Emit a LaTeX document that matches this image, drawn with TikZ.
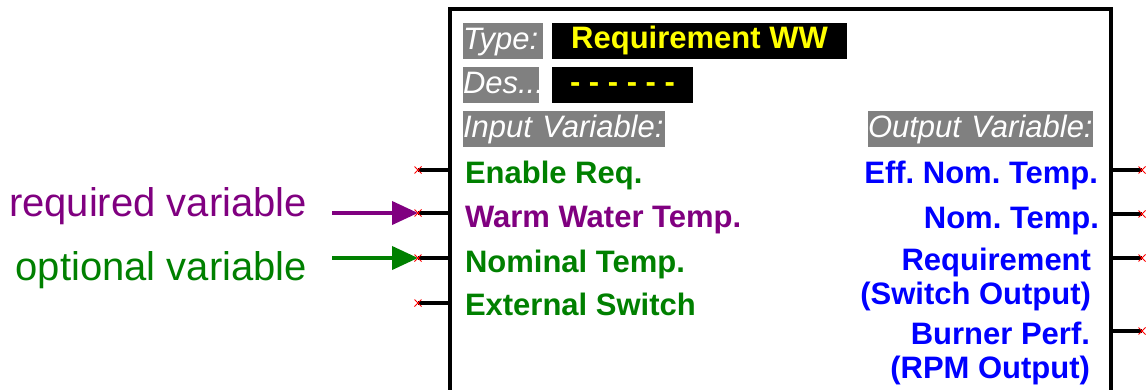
\documentclass[tikz,border=0pt]{standalone}
\usepackage{fontspec}
\setmainfont{Liberation Sans}
\usetikzlibrary{positioning,arrows.meta,shapes.misc}
\definecolor{reqpurple}{RGB}{128,0,128}
\definecolor{optgreen}{RGB}{0,128,0}
\definecolor{outblue}{RGB}{0,0,255}
\definecolor{tagyellow}{RGB}{255,255,0}
\definecolor{taggray}{RGB}{128,128,128}
\newcommand{\pinfont}{\fontsize{31}{33.5}\selectfont\bfseries}
\newcommand{\tagfont}{\fontsize{31}{31}\selectfont\itshape}
\newcommand{\legfont}{\fontsize{40}{40}\selectfont}
\frenchspacing

\begin{document}
\begin{tikzpicture}[x=1pt,y=-1pt,
  every node/.style={inner sep=0pt,outer sep=0pt},
  block/.style={draw=black,line width=4pt,minimum width=661pt,minimum height=420pt,anchor=north west},
  graytag/.style={fill=taggray,text=white,font=\tagfont,text height=26pt,text depth=10pt,anchor=north west,align=left},
  blacktag/.style={fill=black,text=tagyellow,font=\pinfont,text height=25pt,text depth=11pt,anchor=north west},
  inlabel/.style={font=\pinfont,anchor=base west},
  outlabel/.style={font=\pinfont,text=outblue,anchor=base east,align=right},
  pinline/.style={line width=3.5pt,black},
  pinmark/.style={cross out,draw=red,line width=0.8pt,minimum width=7pt,minimum height=7pt},
  legarrow/.style={line width=4pt,-{Triangle[length=26pt,width=23pt]}}]
\useasboundingbox (0,0) rectangle (1147,389);
\clip (0,0) rectangle (1147,389);
\node[block] (block) at (450,9) {};
\node[graytag,text width=80pt] (typetag) at (463,23) {Type:};
\node[blacktag,minimum width=295pt] (typename) at (552,23) {Requirement WW};
\node[graytag,text width=76pt] (destag) at (463,67) {Des..:};
\node[blacktag,minimum width=141pt] (desname) at (552,67) {- - - - - -};
\node[graytag,text width=202pt] (intag) at (463,111) {Input Variable:};
\node[graytag,text width=225pt] (outtag) at (868,111) {Output Variable:};
\node[inlabel,text=optgreen] (enable) at (465,183) {Enable Req.};
\node[inlabel,text=reqpurple] (warm) at (465,227) {Warm Water Temp.};
\node[inlabel,text=optgreen] (nominal) at (465,272) {Nominal Temp.};
\node[inlabel,text=optgreen] (external) at (465,315) {External Switch};
\node[outlabel] (effnom) at (1098,183) {Eff. Nom. Temp.};
\node[outlabel] (nomtemp) at (1099,228) {Nom. Temp.};
\node[outlabel] (reqout) at (1091,304) {Requirement\\(Switch Output)};
\node[outlabel] (burner) at (1090,378) {Burner Perf.\\(RPM Output)};
\coordinate (enablepin) at (418,170);
\coordinate (warmpin) at (418,213);
\coordinate (nominalpin) at (418,258);
\coordinate (externalpin) at (418,303);
\coordinate (effnompin) at (1142,170);
\coordinate (nomtemppin) at (1142,214);
\coordinate (reqoutpin) at (1142,258);
\coordinate (burnerpin) at (1142,331);
\draw[pinline] (enablepin) -- (enablepin -| block.west);
\draw[pinline] (warmpin) -- (warmpin -| block.west);
\draw[pinline] (nominalpin) -- (nominalpin -| block.west);
\draw[pinline] (externalpin) -- (externalpin -| block.west);
\draw[pinline] (effnompin -| block.east) -- (effnompin);
\draw[pinline] (nomtemppin -| block.east) -- (nomtemppin);
\draw[pinline] (reqoutpin -| block.east) -- (reqoutpin);
\draw[pinline] (burnerpin -| block.east) -- (burnerpin);
\node[font=\legfont,text=reqpurple,anchor=base east] (reqlegend) at (307,216) {required variable};
\node[font=\legfont,text=optgreen,anchor=base east] (optlegend) at (307,280) {optional variable};
\coordinate (reqtail) at (332,213);
\coordinate (opttail) at (332,258);
\draw[legarrow,reqpurple] (reqtail) -- (warmpin);
\draw[legarrow,optgreen] (opttail) -- (nominalpin);
\node[pinmark] (enablemark) at (enablepin) {};
\node[pinmark] (warmmark) at (warmpin) {};
\node[pinmark] (nominalmark) at (nominalpin) {};
\node[pinmark] (externalmark) at (externalpin) {};
\node[pinmark] (effnommark) at (effnompin) {};
\node[pinmark] (nomtempmark) at (nomtemppin) {};
\node[pinmark] (reqoutmark) at (reqoutpin) {};
\node[pinmark] (burnermark) at (burnerpin) {};
\end{tikzpicture}
\end{document}
